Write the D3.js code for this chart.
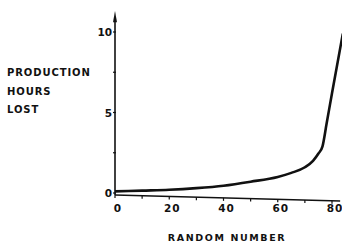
<!DOCTYPE html>
<html>
<head>
<meta charset="utf-8">
<script src="https://cdn.jsdelivr.net/npm/d3@7"></script>
<style>
  body { margin: 0; background: #fff; }
  text { font-family: "DejaVu Sans", sans-serif; font-weight: bold; fill: #111; }
</style>
</head>
<body>
<svg id="chart" width="342" height="246"></svg>
<script>
// data
const randomNumber = [0, 10, 20, 30, 40, 50, 60, 65, 70, 73, 75, 76.5, 78, 80, 84];
const hoursLost    = [0.1, 0.15, 0.2, 0.3, 0.45, 0.7, 1.0, 1.25, 1.6, 2.0, 2.45, 2.9, 4.3, 6.2, 9.9];
const xTicks = [0, 20, 40, 60, 80];
const yTicks = [0, 5, 10];
const yLabel = ["PRODUCTION", "HOURS", "LOST"];
const xLabel = "RANDOM NUMBER";

const svg = d3.select("#chart");
const x = d3.scaleLinear().domain([0, 80]).range([115, 332]);
const y = d3.scaleLinear().domain([0, 10]).range([193, 32]);

// y axis with arrow head
svg.append("line")
    .attr("x1", x(0)).attr("x2", x(0))
    .attr("y1", y(0) + 2).attr("y2", y(10.8))
    .attr("stroke", "#111").attr("stroke-width", 1.6);

svg.append("path")
    .attr("d", `M${x(0)},${y(11.3)} L${x(0) + 2},${y(10.6)} L${x(0) - 2},${y(10.6)} Z`)
    .attr("fill", "#111");

svg.selectAll(".ytick").data(d3.range(0, 11, 2.5)).join("line")
    .attr("x1", x(0) - 2).attr("x2", x(0) + 1)
    .attr("y1", d => y(d)).attr("y2", d => y(d))
    .attr("stroke", "#111").attr("stroke-width", 1.2);

svg.selectAll(".ylab").data(yTicks).join("text")
    .attr("x", x(0) - 3).attr("y", d => y(d) + 4)
    .attr("text-anchor", "end").attr("font-size", 10.5)
    .text(d => d);

// x axis (slightly skewed as in the scan)
const base = v => y(0) + 2 + v / 84 * 6;
svg.append("line")
    .attr("x1", x(0)).attr("x2", x(83))
    .attr("y1", base(0)).attr("y2", base(83))
    .attr("stroke", "#111").attr("stroke-width", 1.6);

svg.selectAll(".xtick").data(d3.range(0, 81, 10)).join("line")
    .attr("x1", d => x(d)).attr("x2", d => x(d))
    .attr("y1", d => base(d)).attr("y2", d => base(d) + 3)
    .attr("stroke", "#111").attr("stroke-width", 1.2);

svg.selectAll(".xlab").data(xTicks).join("text")
    .attr("x", d => x(d) + 3).attr("y", 212)
    .attr("text-anchor", "middle").attr("font-size", 10.5)
    .attr("letter-spacing", 1)
    .text(d => d);

svg.append("text")
    .attr("x", 227).attr("y", 241)
    .attr("text-anchor", "middle").attr("font-size", 9.5)
    .attr("letter-spacing", 1.6)
    .text(xLabel);

svg.selectAll(".ytitle").data(yLabel).join("text")
    .attr("x", 7).attr("y", (d, i) => 76 + i * 18.5)
    .attr("font-size", 10)
    .attr("letter-spacing", 0.9)
    .text(d => d);

// curve
const pts = randomNumber.map((r, i) => [x(r), y(hoursLost[i])]);
svg.append("path")
    .attr("d", d3.line().curve(d3.curveMonotoneX)(pts))
    .attr("fill", "none").attr("stroke", "#111").attr("stroke-width", 2.6);
</script>
</body>
</html>
